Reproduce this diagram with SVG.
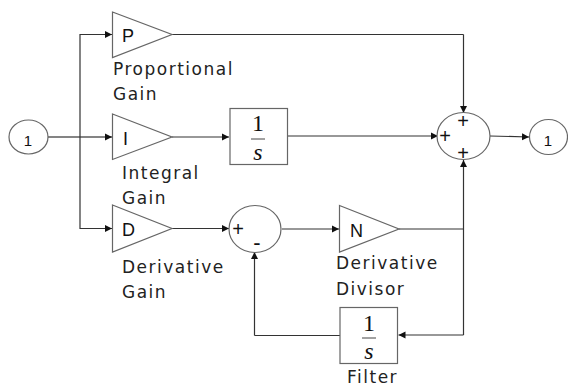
<svg xmlns="http://www.w3.org/2000/svg" width="568" height="387" viewBox="0 0 568 387">
<defs>
<marker id="arrow" markerUnits="userSpaceOnUse" markerWidth="8" markerHeight="8" refX="7" refY="4" orient="auto"><path d="M0 0.5L7 4L0 7.500Z" fill="#111"/></marker>
</defs>
<style>
.shape{fill:#fff;stroke:#666;stroke-width:1.200}
.wire{fill:none;stroke:#333;stroke-width:1.200}
.arr{marker-end:url(#arrow)}
.lbl{font-family:"DejaVu Sans",sans-serif;font-size:17px;letter-spacing:1.500px;fill:#222}
.sym{font-family:"Liberation Sans",sans-serif;fill:#111}
.frac{font-family:"Liberation Serif",serif;font-size:24px;fill:#111;text-anchor:middle}
.sgn{font-family:"Liberation Sans",sans-serif;font-size:20px;fill:#111;text-anchor:middle}
.bar{stroke:#444;stroke-width:1}
</style>
<rect width="568" height="387" fill="#fff"/>
<g id="connectors">
<path class="wire" d="M48 137H80"/>
<path class="wire arr" d="M80 137H112"/>
<path class="wire arr" d="M80 137V34.500H112"/>
<path class="wire arr" d="M80 137V228.500H112"/>
<path class="wire" d="M172 34.500H463.500"/>
<path class="wire arr" d="M463.500 34.500V113"/>
<path class="wire arr" d="M172 137H229"/>
<path class="wire arr" d="M288 136H438"/>
<path class="wire arr" d="M490 136L529 137"/>
<path class="wire arr" d="M172 228.500H229"/>
<path class="wire arr" d="M282 229H339"/>
<path class="wire" d="M399 229H463.500"/>
<path class="wire arr" d="M463.500 335V160"/>
<path class="wire arr" d="M463.500 335H398.500"/>
<path class="wire" d="M340 335.500H254.500"/>
<path class="wire arr" d="M254.500 335.500V252"/>
</g>
<g id="in1"><ellipse class="shape" cx="28.500" cy="137" rx="19.500" ry="17"/><text class="sym" x="28" y="146" font-size="15" text-anchor="middle">1</text></g>
<g id="gainP"><path class="shape" d="M112.500 12L172 34.500L112.500 57.500Z"/><text class="sym" x="122" y="42" font-size="18">P</text><text class="lbl" x="113" y="75">Proportional</text><text class="lbl" x="113" y="100">Gain</text></g>
<g id="gainI"><path class="shape" d="M112.500 114L172 137L112.500 159.500Z"/><text class="sym" x="123" y="145" font-size="18">I</text><text class="lbl" x="122" y="179">Integral</text><text class="lbl" x="122" y="204">Gain</text></g>
<g id="integrator"><rect class="shape" x="230" y="108.500" width="57.500" height="56"/><text class="frac" x="258" y="131">1</text><path class="bar" d="M251 139H265"/><text class="frac" x="258" y="160" font-style="italic">s</text></g>
<g id="sum1"><ellipse class="shape" cx="463.500" cy="136" rx="26.500" ry="23.500"/><text class="sgn" x="463" y="128">+</text><text class="sgn" x="445" y="143">+</text><text class="sgn" x="463" y="160">+</text></g>
<g id="out1"><ellipse class="shape" cx="548.500" cy="137" rx="19" ry="17.500"/><text class="sym" x="548" y="146" font-size="15" text-anchor="middle">1</text></g>
<g id="gainD"><path class="shape" d="M112.500 205L172 228.500L112.500 252Z"/><text class="sym" x="122" y="236" font-size="18">D</text><text class="lbl" x="122" y="273">Derivative</text><text class="lbl" x="122" y="298">Gain</text></g>
<g id="sum2"><ellipse class="shape" cx="255" cy="229" rx="26" ry="23.500"/><text class="sgn" x="238" y="236">+</text><text class="sym" x="257" y="250" font-size="22" text-anchor="middle">-</text></g>
<g id="gainN"><path class="shape" d="M339.500 205.500L399 229L339.500 252Z"/><text class="sym" x="350" y="237" font-size="18">N</text><text class="lbl" x="336" y="269">Derivative</text><text class="lbl" x="336" y="295">Divisor</text></g>
<g id="filter"><rect class="shape" x="340" y="307.500" width="57.500" height="56"/><text class="frac" x="369" y="331">1</text><path class="bar" d="M362 338H376"/><text class="frac" x="369" y="359" font-style="italic">s</text><text class="lbl" x="347" y="383">Filter</text></g>
</svg>
